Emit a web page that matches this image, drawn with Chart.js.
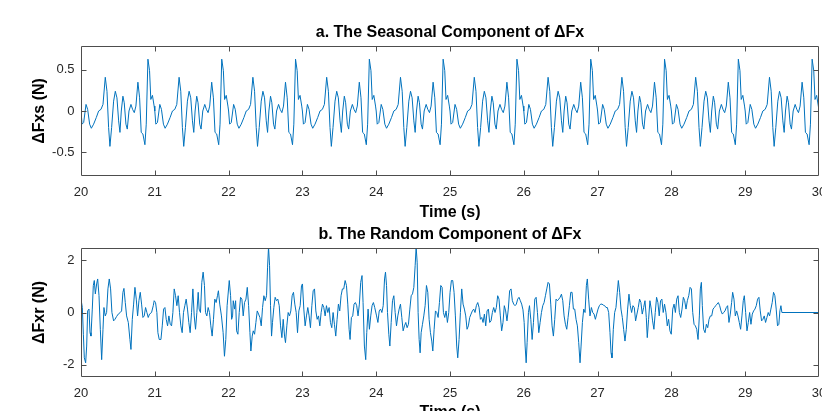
<!DOCTYPE html>
<html>
<head>
<meta charset="utf-8">
<title>Seasonal and random components of ΔFx</title>
<script src="https://cdn.jsdelivr.net/npm/chart.js@4.4.1/dist/chart.umd.min.js"></script>
<style>
  html, body { margin: 0; padding: 0; background: #fff; overflow: hidden; }
  body { width: 822px; height: 411px; position: relative; }
  .panel { position: absolute; left: 0; width: 822px; }
  #topPanel { top: 0; height: 225px; }
  #bottomPanel { top: 225px; height: 205px; }
</style>
</head>
<body>
<div class="panel" id="topPanel"><canvas id="seasonalChart"></canvas></div>
<div class="panel" id="bottomPanel"><canvas id="randomChart"></canvas></div>
<script>
// Seasonal + random decomposition of ΔFx, drawn as two stacked MATLAB-style panels.

const LINE = '#0072BD';
const AXIS = '#4d4d4d';
const TICK_TEXT = '#262626';

const xTicks = [20, 21, 22, 23, 24, 25, 26, 27, 28, 29, 30];
const seasonalTicks = [-0.5, 0, 0.5];
const randomTicks = [-2, 0, 2];

const seasonalPhase = [0.000, 0.014, 0.036, 0.068, 0.090, 0.117, 0.140, 0.171, 0.207, 0.239,
  0.271, 0.298, 0.329, 0.352, 0.374, 0.392, 0.415, 0.442, 0.465, 0.487,
  0.510, 0.528, 0.546, 0.568, 0.586, 0.609, 0.627, 0.650, 0.677, 0.699,
  0.722, 0.744, 0.771, 0.794, 0.816, 0.839, 0.866, 0.884, 0.907, 0.929,
  0.946, 0.968, 0.991];
const seasonalValue = [0.00, -0.16, -0.14, 0.08, 0.02, -0.16, -0.21, -0.16, -0.08, 0.00,
  0.02, 0.08, 0.41, 0.24, -0.20, -0.43, -0.20, 0.12, 0.24, 0.16,
  -0.12, -0.26, 0.00, 0.18, 0.10, -0.16, -0.22, 0.00, 0.08, 0.02,
  -0.02, 0.06, 0.35, 0.16, -0.26, -0.28, -0.41, -0.16, 0.63, 0.49,
  0.14, 0.19, 0.06];
const seasonalCycles = [20, 21, 22, 23, 24, 25, 26, 27, 28, 29];

// random component (s, N)
const randomTime = [
  20.000, 20.018, 20.032, 20.045, 20.063, 20.077, 20.090, 20.108, 20.122, 20.135,
  20.153, 20.167, 20.180, 20.194, 20.212, 20.226, 20.244, 20.262, 20.280, 20.298,
  20.311, 20.329, 20.347, 20.365, 20.383, 20.401, 20.419, 20.442, 20.460, 20.483,
  20.505, 20.532, 20.550, 20.568, 20.582, 20.600, 20.618, 20.641, 20.663, 20.677,
  20.695, 20.713, 20.731, 20.749, 20.767, 20.785, 20.803, 20.821, 20.839, 20.857,
  20.875, 20.893, 20.911, 20.929, 20.956, 20.979, 20.992, 21.010, 21.028, 21.042,
  21.060, 21.083, 21.101, 21.119, 21.137, 21.155, 21.173, 21.191, 21.209, 21.227,
  21.245, 21.263, 21.281, 21.299, 21.317, 21.335, 21.353, 21.371, 21.389, 21.407,
  21.425, 21.443, 21.461, 21.479, 21.498, 21.516, 21.534, 21.552, 21.570, 21.588,
  21.601, 21.619, 21.637, 21.655, 21.673, 21.687, 21.705, 21.723, 21.741, 21.759,
  21.777, 21.795, 21.813, 21.831, 21.849, 21.862, 21.880, 21.903, 21.926, 21.944,
  21.962, 21.980, 22.009, 22.027, 22.041, 22.054, 22.063, 22.081, 22.095, 22.108,
  22.126, 22.144, 22.162, 22.180, 22.198, 22.216, 22.235, 22.253, 22.271, 22.289,
  22.302, 22.320, 22.334, 22.352, 22.370, 22.388, 22.406, 22.424, 22.442, 22.460,
  22.478, 22.496, 22.514, 22.528, 22.541, 22.555, 22.568, 22.582, 22.595, 22.613,
  22.631, 22.649, 22.667, 22.686, 22.704, 22.722, 22.740, 22.758, 22.771, 22.789,
  22.807, 22.825, 22.843, 22.861, 22.879, 22.897, 22.916, 22.934, 22.952, 22.970,
  22.988, 23.001, 23.019, 23.037, 23.055, 23.073, 23.091, 23.109, 23.128, 23.146,
  23.164, 23.182, 23.200, 23.218, 23.236, 23.254, 23.272, 23.290, 23.308, 23.326,
  23.344, 23.362, 23.380, 23.398, 23.416, 23.434, 23.452, 23.470, 23.488, 23.506,
  23.524, 23.542, 23.560, 23.579, 23.597, 23.615, 23.633, 23.646, 23.664, 23.682,
  23.700, 23.718, 23.736, 23.754, 23.772, 23.790, 23.808, 23.822, 23.840, 23.858,
  23.872, 23.890, 23.908, 23.926, 23.944, 23.962, 23.980, 24.005, 24.023, 24.041,
  24.059, 24.077, 24.095, 24.113, 24.126, 24.140, 24.153, 24.171, 24.185, 24.203,
  24.221, 24.239, 24.257, 24.275, 24.293, 24.311, 24.329, 24.347, 24.365, 24.383,
  24.401, 24.419, 24.437, 24.456, 24.474, 24.492, 24.510, 24.528, 24.541, 24.555,
  24.568, 24.582, 24.595, 24.609, 24.627, 24.645, 24.663, 24.681, 24.699, 24.717,
  24.735, 24.753, 24.767, 24.785, 24.803, 24.821, 24.839, 24.857, 24.875, 24.893,
  24.911, 24.929, 24.947, 24.965, 24.983, 25.001, 25.019, 25.037, 25.055, 25.073,
  25.091, 25.105, 25.123, 25.141, 25.159, 25.177, 25.195, 25.213, 25.231, 25.249,
  25.267, 25.285, 25.303, 25.321, 25.339, 25.357, 25.376, 25.394, 25.412, 25.430,
  25.448, 25.466, 25.484, 25.502, 25.520, 25.538, 25.556, 25.574, 25.592, 25.610,
  25.628, 25.646, 25.664, 25.682, 25.700, 25.718, 25.736, 25.754, 25.772, 25.790,
  25.808, 25.827, 25.845, 25.863, 25.881, 25.899, 25.917, 25.935, 25.953, 25.971,
  25.989, 26.005, 26.018, 26.032, 26.045, 26.063, 26.077, 26.095, 26.113, 26.131,
  26.149, 26.167, 26.185, 26.203, 26.221, 26.239, 26.257, 26.275, 26.293, 26.311,
  26.329, 26.347, 26.365, 26.383, 26.401, 26.419, 26.437, 26.456, 26.474, 26.492,
  26.510, 26.528, 26.546, 26.564, 26.582, 26.600, 26.618, 26.636, 26.654, 26.672,
  26.690, 26.708, 26.726, 26.744, 26.762, 26.776, 26.794, 26.812, 26.830, 26.848,
  26.861, 26.879, 26.897, 26.916, 26.934, 26.952, 26.970, 26.988, 27.006, 27.024,
  27.042, 27.060, 27.078, 27.096, 27.114, 27.132, 27.150, 27.168, 27.182, 27.195,
  27.213, 27.231, 27.249, 27.267, 27.281, 27.299, 27.317, 27.335, 27.353, 27.371,
  27.389, 27.407, 27.425, 27.443, 27.461, 27.479, 27.497, 27.515, 27.533, 27.551,
  27.569, 27.587, 27.605, 27.624, 27.642, 27.660, 27.673, 27.691, 27.709, 27.727,
  27.745, 27.763, 27.781, 27.799, 27.817, 27.835, 27.853, 27.871, 27.889, 27.907,
  27.926, 27.944, 27.962, 27.980, 27.998, 28.018, 28.036, 28.054, 28.072, 28.090,
  28.108, 28.126, 28.144, 28.162, 28.180, 28.198, 28.216, 28.235, 28.253, 28.271,
  28.289, 28.307, 28.325, 28.343, 28.361, 28.379, 28.392, 28.406, 28.419, 28.437,
  28.456, 28.474, 28.492, 28.510, 28.528, 28.546, 28.564, 28.582, 28.600, 28.618,
  28.636, 28.654, 28.672, 28.690, 28.708, 28.726, 28.744, 28.762, 28.780, 28.798,
  28.816, 28.830, 28.848, 28.866, 28.884, 28.902, 28.920, 28.938, 28.956, 28.974,
  28.988, 29.006, 29.024, 29.042, 29.060, 29.078, 29.096, 29.114, 29.132, 29.150,
  29.168, 29.186, 29.204, 29.222, 29.240, 29.258, 29.276, 29.294, 29.312, 29.330,
  29.348, 29.366, 29.384, 29.402, 29.420, 29.438, 29.456, 29.470, 29.484, 29.497,
  30.000];
const randomValue = [
  0.51, 0.19, -0.83, -1.73, -1.92, -1.28, 0.06, 0.13, -0.77, -0.90,
  0.13, 1.03, 1.22, 0.71, 1.09, 1.28, 0.64, -0.64, -1.80, -0.64,
  0.19, -0.13, 0.00, 0.90, 1.28, 0.90, 0.00, -0.32, -0.26, -0.15,
  -0.06, 0.00, 0.06, 0.77, 0.92, 0.38, -0.13, -0.38, -1.03, -1.41,
  -0.26, 0.32, 0.96, 0.51, -0.13, 0.45, 0.77, 0.32, -0.19, -0.13,
  0.19, 0.00, -0.19, -0.06, 0.00, 0.26, 0.45, 0.38, 0.00, -0.77,
  -1.03, -1.03, -0.51, 0.13, 0.19, -0.26, -0.51, -0.13, -0.45, -0.51,
  0.00, 0.90, 0.64, 0.26, 0.64, 0.00, -0.51, -0.77, 0.00, 0.26,
  0.51, 0.13, -0.38, -0.77, 0.00, 0.90, -0.13, -0.64, 0.00, 0.77,
  0.13, 0.00, 1.15, 1.54, 1.03, 0.00, -0.13, 0.19, 0.00, -0.51,
  -0.90, -0.26, 0.51, 0.38, 0.64, 0.83, 0.32, -0.13, -0.77, -1.67,
  -1.03, 0.26, 1.22, 0.64, -0.26, -0.13, 0.45, 0.13, 0.45, -0.70,
  -0.83, 0.00, 0.58, 0.51, -0.13, 0.38, 0.51, 0.96, 0.26, -0.77,
  -1.47, -0.90, -0.70, -0.83, -0.38, 0.06, -0.06, -0.19, -0.51, 0.19,
  0.64, 0.45, 0.64, 1.73, 2.50, 1.80, 0.26, -0.90, -0.38, 0.19,
  0.58, 0.45, 0.51, 0.26, -0.51, -0.96, -0.26, -0.90, -1.15, -0.51,
  0.00, -0.13, 0.06, 0.64, 0.77, 0.32, 0.00, -0.77, 0.06, 0.26,
  1.03, 1.09, 0.13, -0.51, -0.13, 0.19, -0.13, -0.58, 0.26, 0.83,
  0.90, 0.06, -0.26, -0.13, -0.51, 0.00, 0.32, 0.19, -0.13, 0.26,
  0.00, 0.19, -0.38, -0.58, 0.00, -0.45, -0.90, -0.26, 0.32, 0.06,
  0.64, 0.90, 0.90, 1.22, 1.03, 0.32, -0.64, -1.03, -0.19, -0.13,
  0.32, 0.38, 0.26, -0.13, 0.32, 1.15, 1.41, 0.38, -1.28, -1.80,
  -0.77, 0.13, -0.64, -0.13, 0.26, 0.38, 0.19, -0.13, -0.38, 0.06,
  0.13, 0.00, 0.26, 1.28, 1.54, 1.03, 0.00, -0.83, -1.28, -0.38,
  0.45, 0.64, 0.00, -0.51, -0.13, 0.13, 0.32, -0.19, -0.70, -0.51,
  -0.38, -0.58, -0.45, 0.13, 0.64, 0.71, 0.96, 1.80, 2.50, 1.92,
  0.00, -1.03, -1.54, -0.77, -0.45, -0.13, 0.26, 1.03, 0.77, -0.26,
  -0.77, -1.09, -1.47, -0.64, 0.06, 0.00, -0.19, 0.38, 1.03, 0.96,
  0.00, -0.19, 0.06, -0.38, 0.00, 0.77, 1.22, 1.22, 0.77, -0.13,
  -1.28, -1.73, -1.03, 0.00, 0.90, 0.32, 0.13, -0.13, -0.64, -0.51,
  -0.19, -0.06, 0.06, 0.13, 0.00, 0.26, 0.38, 0.19, -0.26, -0.19,
  -0.38, -0.06, -0.51, 0.06, 0.13, -0.38, -0.32, 0.00, 0.19, 0.00,
  0.19, 0.64, 0.51, -0.13, -0.70, -0.38, 0.26, 0.06, -0.32, 0.13,
  0.83, 0.90, 0.45, 0.32, 0.26, 0.32, 0.51, 0.58, 0.45, 0.32,
  0.10, -0.38, -1.28, -1.92, -1.15, 0.00, 0.26, -0.26, -1.03, -0.38,
  0.51, 0.58, 0.00, -0.77, -0.38, 0.00, 0.26, 0.38, 0.64, 0.90,
  1.15, 1.09, 0.32, -0.51, -0.90, -0.26, 0.51, 0.45, 0.51, 0.58,
  0.70, 0.45, -0.13, -0.45, -0.64, -0.19, 0.26, 0.77, 0.77, 0.13,
  0.13, -0.26, -0.51, -1.15, -1.92, -1.28, -0.38, 0.13, 0.00, 1.03,
  1.28, 0.51, -0.13, 0.19, 0.00, -0.06, -0.26, -0.06, 0.13, 0.26,
  0.32, 0.32, 0.28, 0.26, 0.19, 0.19, 0.00, -0.77, -1.54, -1.73,
  -0.64, 0.00, 0.19, 0.77, 1.22, 0.77, 0.13, -0.19, -0.64, -1.09,
  -0.64, 0.13, 0.70, 0.26, 0.00, 0.26, 0.19, -0.32, -0.06, 0.19,
  0.51, 0.38, -0.06, 0.19, 0.45, -0.19, -0.96, -0.26, 0.45, 0.13,
  -0.32, -0.64, 0.00, 0.58, 0.38, -0.13, 0.45, 0.51, 0.00, 0.32,
  0.00, -0.51, -0.26, -0.70, -0.83, 0.13, 0.32, 0.00, 0.51, 0.64,
  0.00, -0.19, 0.13, 0.58, 0.45, 0.13, 0.45, 0.64, 0.96, 0.90,
  0.00, -0.45, -0.51, -0.64, -1.03, -0.13, 0.90, 1.15, 0.26, -0.64,
  -0.77, -0.45, -0.58, -0.26, -0.13, -0.13, 0.13, 0.19, 0.26, 0.32,
  0.38, 0.26, 0.06, -0.06, 0.00, 0.06, 0.19, 0.26, -0.38, -0.06,
  0.38, 0.77, 0.51, -0.13, 0.06, -0.13, -0.38, -0.64, -0.13, 0.45,
  0.64, 0.00, -0.70, -0.38, 0.00, -0.45, -0.06, 0.06, 0.13, 0.26,
  0.51, 0.58, 0.06, -0.32, -0.26, -0.13, -0.38, -0.19, 0.00, -0.13,
  0.13, 0.38, 0.77, 0.64, 0.13, -0.51, -0.45, 0.06, 0.26, 0.00,
  0.00];

Chart.defaults.font.family = '"Liberation Sans", Arial, Helvetica, sans-serif';
Chart.defaults.color = TICK_TEXT;

// MATLAB-like box with inward ticks on all four sides
const boxTicks = {
  id: 'boxTicks',
  afterDraw(chart) {
    const { ctx, chartArea: a, scales } = chart;
    const L = Math.round(a.left) + 0.5, R = Math.round(a.right) - 0.5;
    const T = Math.round(a.top) + 0.5, B = Math.round(a.bottom) - 0.5;
    const len = 5;
    ctx.save();
    ctx.strokeStyle = AXIS;
    ctx.lineWidth = 1;
    ctx.beginPath();
    ctx.rect(L, T, R - L, B - T);
    scales.x.ticks.forEach((t) => {
      const px = Math.round(scales.x.getPixelForValue(t.value)) + 0.5;
      if (px <= L || px >= R) return;
      ctx.moveTo(px, B); ctx.lineTo(px, B - len);
      ctx.moveTo(px, T); ctx.lineTo(px, T + len);
    });
    scales.y.ticks.forEach((t) => {
      const py = Math.round(scales.y.getPixelForValue(t.value)) + 0.5;
      ctx.moveTo(L, py); ctx.lineTo(L + len, py);
      ctx.moveTo(R, py); ctx.lineTo(R - len, py);
    });
    ctx.stroke();
    ctx.restore();
  },
};

function panelOptions(p) {
  return {
    responsive: true,
    maintainAspectRatio: false,
    animation: false,
    devicePixelRatio: 1,
    layout: { padding: { left: 0, right: 3, top: 0, bottom: 0 } },
    plugins: {
      legend: { display: false },
      tooltip: { enabled: false },
      title: {
        display: true, text: p.title, color: '#000', fullSize: false,
        font: { size: 16, weight: 'bold' },
        padding: { top: p.titleTop, bottom: p.titleBottom },
      },
    },
    scales: {
      x: {
        type: 'linear', min: 20, max: 30,
        grid: { display: false, drawTicks: false },
        border: { display: false },
        ticks: { autoSkip: false, maxRotation: 0, padding: p.xTickPad, color: TICK_TEXT, font: { size: 13 } },
        title: {
          display: true, text: 'Time (s)', color: '#000',
          font: { size: 16, weight: 'bold' }, padding: { top: 0, bottom: p.xTitleBottom },
        },
        afterBuildTicks: (s) => { s.ticks = xTicks.map((v) => ({ value: v })); },
        afterFit: (s) => { s.height = p.xHeight; s.paddingLeft = 0; s.paddingRight = 0; },
      },
      y: {
        type: 'linear', min: -p.yMax, max: p.yMax,
        grid: { display: false, drawTicks: false },
        border: { display: false },
        ticks: { padding: 6.5, color: TICK_TEXT, font: { size: 13 }, callback: (v) => String(v) },
        title: {
          display: true, text: p.yLabel, color: '#000',
          font: { size: 16, weight: 'bold' }, padding: { top: 30.4, bottom: 0 },
        },
        afterBuildTicks: (s) => { s.ticks = p.yTicks.map((v) => ({ value: v })); },
        afterFit: (s) => { s.width = 81; s.paddingTop = 0; s.paddingBottom = 0; },
      },
    },
  };
}

function lineDataset(points) {
  return {
    data: points,
    borderColor: LINE,
    borderWidth: 1,
    pointRadius: 0,
    tension: 0,
    fill: false,
  };
}

const seasonalPoints = [];
seasonalCycles.forEach((c) => {
  seasonalPhase.forEach((ph, i) => seasonalPoints.push({ x: c + ph, y: seasonalValue[i] }));
});
seasonalPoints.push({ x: 30, y: seasonalValue[0] });

const randomPoints = randomTime.map((t, i) => ({ x: t, y: randomValue[i] }));

new Chart(document.getElementById('seasonalChart'), {
  type: 'line',
  data: { datasets: [lineDataset(seasonalPoints)] },
  options: panelOptions({
    title: 'a. The Seasonal Component of ΔFx',
    titleTop: 23.4, titleBottom: 3.4,
    xTickPad: 8.2, xTitleBottom: 2.4, xHeight: 49,
    yMax: 0.79, yTicks: seasonalTicks, yLabel: 'ΔFxs (N)',
  }),
  plugins: [boxTicks],
});

new Chart(document.getElementById('randomChart'), {
  type: 'line',
  data: { datasets: [lineDataset(randomPoints)] },
  options: panelOptions({
    title: 'b. The Random Component of ΔFx',
    titleTop: 0.4, titleBottom: 3.7,
    xTickPad: 8.5, xTitleBottom: 7.4, xHeight: 53.3,
    yMax: 2.45, yTicks: randomTicks, yLabel: 'ΔFxr (N)',
  }),
  plugins: [boxTicks],
});
</script>
</body>
</html>
